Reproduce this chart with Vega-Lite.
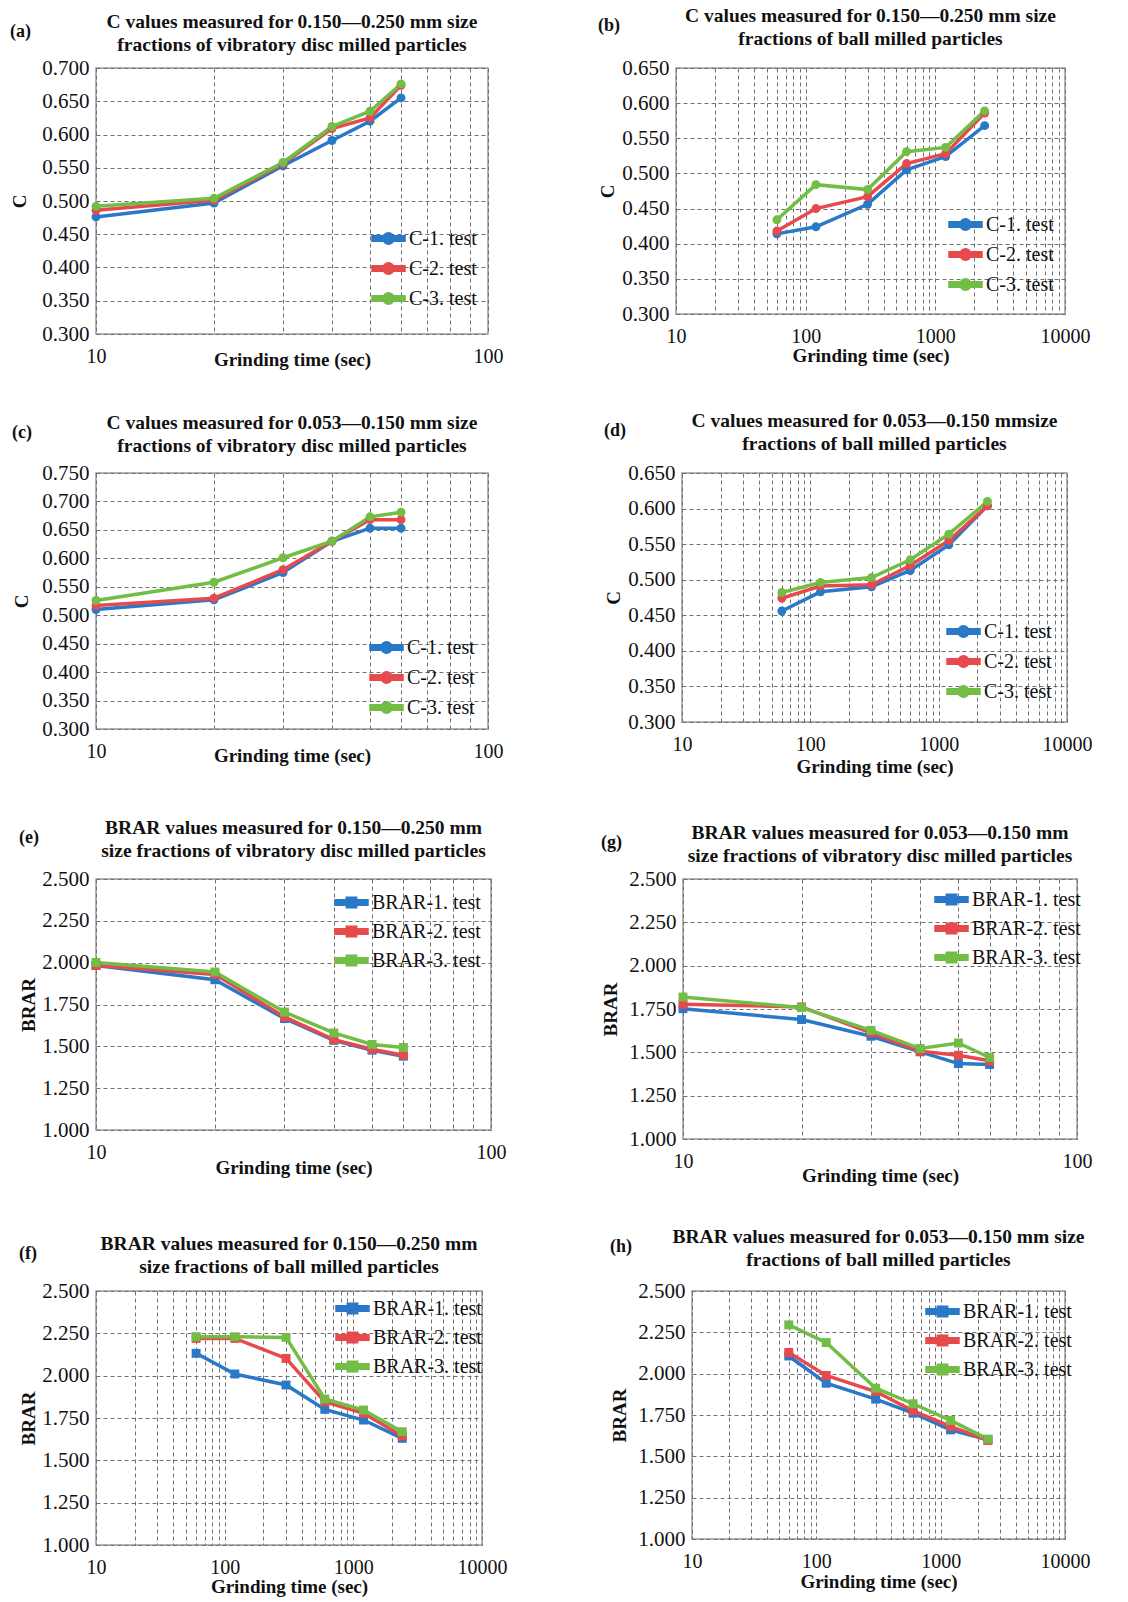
{
  "$schema": "https://vega.github.io/schema/vega-lite/v6.json",
  "padding": {"left": 10, "top": 4, "right": 4, "bottom": 0},
  "background": "white",
  "config": {
    "font": "Liberation Serif",
    "view": {"stroke": "#9a9a9a", "strokeWidth": 1.5},
    "axis": {"labelFont": "Liberation Serif", "labelFontSize": 21, "labelColor": "#111", "titleFont": "Liberation Serif", "titleFontSize": 19, "titleFontWeight": "bold", "titleColor": "#111", "grid": true, "gridDash": [4, 3], "gridColor": "#707070", "gridWidth": 1, "domain": false, "ticks": false, "labelOverlap": false, "labelFlush": false},
    "axisX": {"labelPadding": 12, "labelFontSize": 20},
    "axisY": {"labelPadding": 7, "titlePadding": 8},
    "title": {"font": "Liberation Serif", "fontSize": 19.5, "fontWeight": "bold", "color": "#111", "lineHeight": 23, "offset": 8},
    "legend": {"orient": "none", "labelFont": "Liberation Serif", "labelFontSize": 20, "labelColor": "#111", "symbolSize": 961, "padding": 0, "rowPadding": 0, "labelOffset": 3, "symbolStrokeWidth": 1, "symbolOpacity": 1, "labelLimit": 300},
    "line": {"strokeWidth": 3.5},
    "point": {"filled": true, "size": 80, "opacity": 1}
  },
  "data": {"values": [
    {"p":"a","t":10,"s":"C-1. test","v":0.476},{"p":"a","t":20,"s":"C-1. test","v":0.497},{"p":"a","t":30,"s":"C-1. test","v":0.553},{"p":"a","t":40,"s":"C-1. test","v":0.591},{"p":"a","t":50,"s":"C-1. test","v":0.620},{"p":"a","t":60,"s":"C-1. test","v":0.655},
    {"p":"a","t":10,"s":"C-2. test","v":0.486},{"p":"a","t":20,"s":"C-2. test","v":0.501},{"p":"a","t":30,"s":"C-2. test","v":0.556},{"p":"a","t":40,"s":"C-2. test","v":0.609},{"p":"a","t":50,"s":"C-2. test","v":0.625},{"p":"a","t":60,"s":"C-2. test","v":0.674},
    {"p":"a","t":10,"s":"C-3. test","v":0.492},{"p":"a","t":20,"s":"C-3. test","v":0.504},{"p":"a","t":30,"s":"C-3. test","v":0.558},{"p":"a","t":40,"s":"C-3. test","v":0.612},{"p":"a","t":50,"s":"C-3. test","v":0.635},{"p":"a","t":60,"s":"C-3. test","v":0.676},
    {"p":"b","t":60,"s":"C-1. test","v":0.414},{"p":"b","t":120,"s":"C-1. test","v":0.424},{"p":"b","t":300,"s":"C-1. test","v":0.456},{"p":"b","t":600,"s":"C-1. test","v":0.505},{"p":"b","t":1200,"s":"C-1. test","v":0.524},{"p":"b","t":2400,"s":"C-1. test","v":0.568},
    {"p":"b","t":60,"s":"C-2. test","v":0.418},{"p":"b","t":120,"s":"C-2. test","v":0.450},{"p":"b","t":300,"s":"C-2. test","v":0.467},{"p":"b","t":600,"s":"C-2. test","v":0.514},{"p":"b","t":1200,"s":"C-2. test","v":0.528},{"p":"b","t":2400,"s":"C-2. test","v":0.586},
    {"p":"b","t":60,"s":"C-3. test","v":0.434},{"p":"b","t":120,"s":"C-3. test","v":0.484},{"p":"b","t":300,"s":"C-3. test","v":0.477},{"p":"b","t":600,"s":"C-3. test","v":0.531},{"p":"b","t":1200,"s":"C-3. test","v":0.537},{"p":"b","t":2400,"s":"C-3. test","v":0.589},
    {"p":"c","t":10,"s":"C-1. test","v":0.510},{"p":"c","t":20,"s":"C-1. test","v":0.527},{"p":"c","t":30,"s":"C-1. test","v":0.575},{"p":"c","t":40,"s":"C-1. test","v":0.630},{"p":"c","t":50,"s":"C-1. test","v":0.653},{"p":"c","t":60,"s":"C-1. test","v":0.653},
    {"p":"c","t":10,"s":"C-2. test","v":0.517},{"p":"c","t":20,"s":"C-2. test","v":0.530},{"p":"c","t":30,"s":"C-2. test","v":0.580},{"p":"c","t":40,"s":"C-2. test","v":0.630},{"p":"c","t":50,"s":"C-2. test","v":0.668},{"p":"c","t":60,"s":"C-2. test","v":0.668},
    {"p":"c","t":10,"s":"C-3. test","v":0.526},{"p":"c","t":20,"s":"C-3. test","v":0.558},{"p":"c","t":30,"s":"C-3. test","v":0.601},{"p":"c","t":40,"s":"C-3. test","v":0.630},{"p":"c","t":50,"s":"C-3. test","v":0.673},{"p":"c","t":60,"s":"C-3. test","v":0.681},
    {"p":"d","t":60,"s":"C-1. test","v":0.456},{"p":"d","t":120,"s":"C-1. test","v":0.483},{"p":"d","t":300,"s":"C-1. test","v":0.490},{"p":"d","t":600,"s":"C-1. test","v":0.513},{"p":"d","t":1200,"s":"C-1. test","v":0.549},{"p":"d","t":2400,"s":"C-1. test","v":0.604},
    {"p":"d","t":60,"s":"C-2. test","v":0.474},{"p":"d","t":120,"s":"C-2. test","v":0.491},{"p":"d","t":300,"s":"C-2. test","v":0.493},{"p":"d","t":600,"s":"C-2. test","v":0.520},{"p":"d","t":1200,"s":"C-2. test","v":0.555},{"p":"d","t":2400,"s":"C-2. test","v":0.604},
    {"p":"d","t":60,"s":"C-3. test","v":0.482},{"p":"d","t":120,"s":"C-3. test","v":0.496},{"p":"d","t":300,"s":"C-3. test","v":0.503},{"p":"d","t":600,"s":"C-3. test","v":0.528},{"p":"d","t":1200,"s":"C-3. test","v":0.564},{"p":"d","t":2400,"s":"C-3. test","v":0.610},
    {"p":"e","t":10,"s":"BRAR-1. test","v":1.983},{"p":"e","t":20,"s":"BRAR-1. test","v":1.898},{"p":"e","t":30,"s":"BRAR-1. test","v":1.666},{"p":"e","t":40,"s":"BRAR-1. test","v":1.536},{"p":"e","t":50,"s":"BRAR-1. test","v":1.477},{"p":"e","t":60,"s":"BRAR-1. test","v":1.441},
    {"p":"e","t":10,"s":"BRAR-2. test","v":1.983},{"p":"e","t":20,"s":"BRAR-2. test","v":1.930},{"p":"e","t":30,"s":"BRAR-2. test","v":1.676},{"p":"e","t":40,"s":"BRAR-2. test","v":1.540},{"p":"e","t":50,"s":"BRAR-2. test","v":1.483},{"p":"e","t":60,"s":"BRAR-2. test","v":1.447},
    {"p":"e","t":10,"s":"BRAR-3. test","v":2.001},{"p":"e","t":20,"s":"BRAR-3. test","v":1.944},{"p":"e","t":30,"s":"BRAR-3. test","v":1.705},{"p":"e","t":40,"s":"BRAR-3. test","v":1.580},{"p":"e","t":50,"s":"BRAR-3. test","v":1.511},{"p":"e","t":60,"s":"BRAR-3. test","v":1.493},
    {"p":"g","t":10,"s":"BRAR-1. test","v":1.752},{"p":"g","t":20,"s":"BRAR-1. test","v":1.689},{"p":"g","t":30,"s":"BRAR-1. test","v":1.593},{"p":"g","t":40,"s":"BRAR-1. test","v":1.503},{"p":"g","t":50,"s":"BRAR-1. test","v":1.435},{"p":"g","t":60,"s":"BRAR-1. test","v":1.430},
    {"p":"g","t":10,"s":"BRAR-2. test","v":1.777},{"p":"g","t":20,"s":"BRAR-2. test","v":1.762},{"p":"g","t":30,"s":"BRAR-2. test","v":1.612},{"p":"g","t":40,"s":"BRAR-2. test","v":1.506},{"p":"g","t":50,"s":"BRAR-2. test","v":1.483},{"p":"g","t":60,"s":"BRAR-2. test","v":1.451},
    {"p":"g","t":10,"s":"BRAR-3. test","v":1.819},{"p":"g","t":20,"s":"BRAR-3. test","v":1.758},{"p":"g","t":30,"s":"BRAR-3. test","v":1.627},{"p":"g","t":40,"s":"BRAR-3. test","v":1.522},{"p":"g","t":50,"s":"BRAR-3. test","v":1.554},{"p":"g","t":60,"s":"BRAR-3. test","v":1.470},
    {"p":"f","t":60,"s":"BRAR-1. test","v":2.132},{"p":"f","t":120,"s":"BRAR-1. test","v":2.010},{"p":"f","t":300,"s":"BRAR-1. test","v":1.945},{"p":"f","t":600,"s":"BRAR-1. test","v":1.801},{"p":"f","t":1200,"s":"BRAR-1. test","v":1.738},{"p":"f","t":2400,"s":"BRAR-1. test","v":1.630},
    {"p":"f","t":60,"s":"BRAR-2. test","v":2.220},{"p":"f","t":120,"s":"BRAR-2. test","v":2.220},{"p":"f","t":300,"s":"BRAR-2. test","v":2.102},{"p":"f","t":600,"s":"BRAR-2. test","v":1.846},{"p":"f","t":1200,"s":"BRAR-2. test","v":1.778},{"p":"f","t":2400,"s":"BRAR-2. test","v":1.644},
    {"p":"f","t":60,"s":"BRAR-3. test","v":2.230},{"p":"f","t":120,"s":"BRAR-3. test","v":2.230},{"p":"f","t":300,"s":"BRAR-3. test","v":2.226},{"p":"f","t":600,"s":"BRAR-3. test","v":1.862},{"p":"f","t":1200,"s":"BRAR-3. test","v":1.797},{"p":"f","t":2400,"s":"BRAR-3. test","v":1.669},
    {"p":"h","t":60,"s":"BRAR-1. test","v":2.107},{"p":"h","t":120,"s":"BRAR-1. test","v":1.942},{"p":"h","t":300,"s":"BRAR-1. test","v":1.846},{"p":"h","t":600,"s":"BRAR-1. test","v":1.761},{"p":"h","t":1200,"s":"BRAR-1. test","v":1.660},{"p":"h","t":2400,"s":"BRAR-1. test","v":1.600},
    {"p":"h","t":60,"s":"BRAR-2. test","v":2.128},{"p":"h","t":120,"s":"BRAR-2. test","v":1.989},{"p":"h","t":300,"s":"BRAR-2. test","v":1.892},{"p":"h","t":600,"s":"BRAR-2. test","v":1.775},{"p":"h","t":1200,"s":"BRAR-2. test","v":1.681},{"p":"h","t":2400,"s":"BRAR-2. test","v":1.596},
    {"p":"h","t":60,"s":"BRAR-3. test","v":2.295},{"p":"h","t":120,"s":"BRAR-3. test","v":2.188},{"p":"h","t":300,"s":"BRAR-3. test","v":1.912},{"p":"h","t":600,"s":"BRAR-3. test","v":1.818},{"p":"h","t":1200,"s":"BRAR-3. test","v":1.717},{"p":"h","t":2400,"s":"BRAR-3. test","v":1.604}
  ]},
  "resolve": {"scale": {"color": "independent"}, "legend": {"color": "independent"}},
  "spacing": 39,
  "vconcat": [
    {
      "resolve": {"scale": {"color": "independent"}, "legend": {"color": "independent"}},
      "spacing": 94,
      "hconcat": [
        {
          "title": {"text": "(a)", "anchor": "start", "fontSize": 18, "dy": 30, "offset": 0},
          "vconcat": [{
            "title": {"text": ["C values measured for 0.150—0.250 mm size", "fractions of vibratory disc milled particles"], "offset": 2},
            "width": 392, "height": 266,
            "transform": [{"filter": "datum.p == 'a'"}],
            "encoding": {
              "x": {"field": "t", "type": "quantitative", "scale": {"type": "log", "domain": [10, 100], "nice": false}, "axis": {"values": [10,20,30,40,50,60,70,80,90,100], "labelExpr": "indexof([10,100,1000,10000], datum.value) >= 0 ? '' + datum.value : ''", "title": "Grinding time (sec)", "titlePadding": -16}},
              "y": {"field": "v", "type": "quantitative", "scale": {"domain": [0.3, 0.7], "nice": false, "zero": false}, "axis": {"values": [0.3,0.35,0.4,0.45,0.5,0.55,0.6,0.65,0.7], "format": ".3f", "title": "C", "titlePadding": 12}},
              "color": {"field": "s", "type": "nominal", "scale": {"range": ["#2a78c8", "#e64a4c", "#71bd45"]}, "legend": {"title": null, "legendX": 275, "legendY": 153, "symbolType": "M-1,-0.11L1,-0.11L1,0.11L-1,0.11Z M-0.3,0A0.3,0.3,0,1,1,0.3,0A0.3,0.3,0,1,1,-0.3,0Z"}}
            },
            "layer": [{"mark": {"type": "line"}}, {"mark": {"type": "point", "shape": "circle"}}]
          }]
        },
        {
          "title": {"text": "(b)", "anchor": "start", "fontSize": 18, "dy": 30, "offset": 0},
          "vconcat": [{
            "title": {"text": ["C values measured for 0.150—0.250 mm size", "fractions of ball milled particles"], "offset": 8},
            "width": 389, "height": 246,
            "transform": [{"filter": "datum.p == 'b'"}],
            "encoding": {
              "x": {"field": "t", "type": "quantitative", "scale": {"type": "log", "domain": [10, 10000], "nice": false}, "axis": {"values": [10,20,30,40,50,60,70,80,90,100,200,300,400,500,600,700,800,900,1000,2000,3000,4000,5000,6000,7000,8000,9000,10000], "labelExpr": "indexof([10,100,1000,10000], datum.value) >= 0 ? '' + datum.value : ''", "title": "Grinding time (sec)", "titlePadding": 0}},
              "y": {"field": "v", "type": "quantitative", "scale": {"domain": [0.3, 0.65], "nice": false, "zero": false}, "axis": {"values": [0.3,0.35,0.4,0.45,0.5,0.55,0.6,0.65], "format": ".3f", "title": "C", "titlePadding": 4}},
              "color": {"field": "s", "type": "nominal", "scale": {"range": ["#2a78c8", "#e64a4c", "#71bd45"]}, "legend": {"title": null, "legendX": 272, "legendY": 139, "symbolType": "M-1,-0.11L1,-0.11L1,0.11L-1,0.11Z M-0.3,0A0.3,0.3,0,1,1,0.3,0A0.3,0.3,0,1,1,-0.3,0Z"}}
            },
            "layer": [{"mark": {"type": "line"}}, {"mark": {"type": "point", "shape": "circle"}}]
          }]
        }
      ]
    },
    {
      "resolve": {"scale": {"color": "independent"}, "legend": {"color": "independent"}},
      "spacing": 100,
      "hconcat": [
        {
          "title": {"text": "(c)", "anchor": "start", "fontSize": 18, "dy": 30, "offset": 0},
          "vconcat": [{
            "title": {"text": ["C values measured for 0.053—0.150 mm size", "fractions of vibratory disc milled particles"], "offset": 6},
            "width": 392, "height": 256,
            "transform": [{"filter": "datum.p == 'c'"}],
            "encoding": {
              "x": {"field": "t", "type": "quantitative", "scale": {"type": "log", "domain": [10, 100], "nice": false}, "axis": {"values": [10,20,30,40,50,60,70,80,90,100], "labelExpr": "indexof([10,100,1000,10000], datum.value) >= 0 ? '' + datum.value : ''", "title": "Grinding time (sec)", "titlePadding": -15}},
              "y": {"field": "v", "type": "quantitative", "scale": {"domain": [0.3, 0.75], "nice": false, "zero": false}, "axis": {"values": [0.3,0.35,0.4,0.45,0.5,0.55,0.6,0.65,0.7,0.75], "format": ".3f", "title": "C", "titlePadding": 10}},
              "color": {"field": "s", "type": "nominal", "scale": {"range": ["#2a78c8", "#e64a4c", "#71bd45"]}, "legend": {"title": null, "legendX": 273, "legendY": 157, "symbolType": "M-1,-0.11L1,-0.11L1,0.11L-1,0.11Z M-0.3,0A0.3,0.3,0,1,1,0.3,0A0.3,0.3,0,1,1,-0.3,0Z"}}
            },
            "layer": [{"mark": {"type": "line"}}, {"mark": {"type": "point", "shape": "circle"}}]
          }]
        },
        {
          "title": {"text": "(d)", "anchor": "start", "fontSize": 18, "dy": 30, "offset": 0},
          "vconcat": [{
            "title": {"text": ["C values measured for 0.053—0.150 mmsize", "fractions of ball milled particles"], "offset": 8},
            "width": 385, "height": 249,
            "transform": [{"filter": "datum.p == 'd'"}],
            "encoding": {
              "x": {"field": "t", "type": "quantitative", "scale": {"type": "log", "domain": [10, 10000], "nice": false}, "axis": {"values": [10,20,30,40,50,60,70,80,90,100,200,300,400,500,600,700,800,900,1000,2000,3000,4000,5000,6000,7000,8000,9000,10000], "labelExpr": "indexof([10,100,1000,10000], datum.value) >= 0 ? '' + datum.value : ''", "title": "Grinding time (sec)", "titlePadding": 3}},
              "y": {"field": "v", "type": "quantitative", "scale": {"domain": [0.3, 0.65], "nice": false, "zero": false}, "axis": {"values": [0.3,0.35,0.4,0.45,0.5,0.55,0.6,0.65], "format": ".3f", "title": "C", "titlePadding": 4}},
              "color": {"field": "s", "type": "nominal", "scale": {"range": ["#2a78c8", "#e64a4c", "#71bd45"]}, "legend": {"title": null, "legendX": 264, "legendY": 141, "symbolType": "M-1,-0.11L1,-0.11L1,0.11L-1,0.11Z M-0.3,0A0.3,0.3,0,1,1,0.3,0A0.3,0.3,0,1,1,-0.3,0Z"}}
            },
            "layer": [{"mark": {"type": "line"}}, {"mark": {"type": "point", "shape": "circle"}}]
          }]
        }
      ]
    },
    {
      "resolve": {"scale": {"color": "independent"}, "legend": {"color": "independent"}},
      "spacing": 94,
      "hconcat": [
        {
          "title": {"text": "(e)", "anchor": "start", "fontSize": 18, "dy": 30, "offset": 0},
          "vconcat": [{
            "title": {"text": ["BRAR values measured for 0.150—0.250 mm", "size fractions of vibratory disc milled particles"], "offset": 7},
            "width": 395, "height": 251,
            "transform": [{"filter": "datum.p == 'e'"}],
            "encoding": {
              "x": {"field": "t", "type": "quantitative", "scale": {"type": "log", "domain": [10, 100], "nice": false}, "axis": {"values": [10,20,30,40,50,60,70,80,90,100], "labelExpr": "indexof([10,100,1000,10000], datum.value) >= 0 ? '' + datum.value : ''", "title": "Grinding time (sec)", "titlePadding": -4}},
              "y": {"field": "v", "type": "quantitative", "scale": {"domain": [1, 2.5], "nice": false, "zero": false}, "axis": {"values": [1,1.25,1.5,1.75,2,2.25,2.5], "format": ".3f", "title": "BRAR", "titlePadding": 3}},
              "color": {"field": "s", "type": "nominal", "scale": {"range": ["#2a78c8", "#e64a4c", "#71bd45"]}, "legend": {"title": null, "legendX": 238, "legendY": 6, "symbolType": "M-1,-0.11L1,-0.11L1,0.11L-1,0.11Z M-0.27,-0.27L0.27,-0.27L0.27,0.27L-0.27,0.27Z"}}
            },
            "layer": [{"mark": {"type": "line"}}, {"mark": {"type": "point", "shape": "square"}}]
          }]
        },
        {
          "title": {"text": "(g)", "anchor": "start", "fontSize": 18, "dy": 30, "offset": 0},
          "vconcat": [{
            "title": {"text": ["BRAR values measured for 0.053—0.150 mm", "size fractions of vibratory disc milled particles"], "offset": 2},
            "width": 394, "height": 260,
            "transform": [{"filter": "datum.p == 'g'"}],
            "encoding": {
              "x": {"field": "t", "type": "quantitative", "scale": {"type": "log", "domain": [10, 100], "nice": false}, "axis": {"values": [10,20,30,40,50,60,70,80,90,100], "labelExpr": "indexof([10,100,1000,10000], datum.value) >= 0 ? '' + datum.value : ''", "title": "Grinding time (sec)", "titlePadding": -5}},
              "y": {"field": "v", "type": "quantitative", "scale": {"domain": [1, 2.5], "nice": false, "zero": false}, "axis": {"values": [1,1.25,1.5,1.75,2,2.25,2.5], "format": ".3f", "title": "BRAR", "titlePadding": 8}},
              "color": {"field": "s", "type": "nominal", "scale": {"range": ["#2a78c8", "#e64a4c", "#71bd45"]}, "legend": {"title": null, "legendX": 251, "legendY": 3, "symbolType": "M-1,-0.11L1,-0.11L1,0.11L-1,0.11Z M-0.27,-0.27L0.27,-0.27L0.27,0.27L-0.27,0.27Z"}}
            },
            "layer": [{"mark": {"type": "line"}}, {"mark": {"type": "point", "shape": "square"}}]
          }]
        }
      ]
    },
    {
      "resolve": {"scale": {"color": "independent"}, "legend": {"color": "independent"}},
      "spacing": 102,
      "hconcat": [
        {
          "title": {"text": "(f)", "anchor": "start", "fontSize": 18, "dy": 30, "offset": 0},
          "vconcat": [{
            "title": {"text": ["BRAR values measured for 0.150—0.250 mm", "size fractions of ball milled particles"], "offset": 3},
            "width": 386, "height": 254,
            "transform": [{"filter": "datum.p == 'f'"}],
            "encoding": {
              "x": {"field": "t", "type": "quantitative", "scale": {"type": "log", "domain": [10, 10000], "nice": false}, "axis": {"values": [10,20,30,40,50,60,70,80,90,100,200,300,400,500,600,700,800,900,1000,2000,3000,4000,5000,6000,7000,8000,9000,10000], "labelExpr": "indexof([10,100,1000,10000], datum.value) >= 0 ? '' + datum.value : ''", "title": "Grinding time (sec)", "titlePadding": 0}},
              "y": {"field": "v", "type": "quantitative", "scale": {"domain": [1, 2.5], "nice": false, "zero": false}, "axis": {"values": [1,1.25,1.5,1.75,2,2.25,2.5], "format": ".3f", "title": "BRAR", "titlePadding": 3}},
              "color": {"field": "s", "type": "nominal", "scale": {"range": ["#2a78c8", "#e64a4c", "#71bd45"]}, "legend": {"title": null, "legendX": 239, "legendY": 0, "symbolType": "M-1,-0.11L1,-0.11L1,0.11L-1,0.11Z M-0.27,-0.27L0.27,-0.27L0.27,0.27L-0.27,0.27Z"}}
            },
            "layer": [{"mark": {"type": "line"}}, {"mark": {"type": "point", "shape": "square"}}]
          }]
        },
        {
          "title": {"text": "(h)", "anchor": "start", "fontSize": 18, "dy": 30, "offset": 0},
          "vconcat": [{
            "title": {"text": ["BRAR values measured for 0.053—0.150 mm size", "fractions of ball milled particles"], "offset": 10},
            "width": 373, "height": 248,
            "transform": [{"filter": "datum.p == 'h'"}],
            "encoding": {
              "x": {"field": "t", "type": "quantitative", "scale": {"type": "log", "domain": [10, 10000], "nice": false}, "axis": {"values": [10,20,30,40,50,60,70,80,90,100,200,300,400,500,600,700,800,900,1000,2000,3000,4000,5000,6000,7000,8000,9000,10000], "labelExpr": "indexof([10,100,1000,10000], datum.value) >= 0 ? '' + datum.value : ''", "title": "Grinding time (sec)", "titlePadding": 1}},
              "y": {"field": "v", "type": "quantitative", "scale": {"domain": [1, 2.5], "nice": false, "zero": false}, "axis": {"values": [1,1.25,1.5,1.75,2,2.25,2.5], "format": ".3f", "title": "BRAR", "titlePadding": 8}},
              "color": {"field": "s", "type": "nominal", "scale": {"range": ["#2a78c8", "#e64a4c", "#71bd45"]}, "legend": {"title": null, "legendX": 233, "legendY": 3, "symbolType": "M-1,-0.11L1,-0.11L1,0.11L-1,0.11Z M-0.27,-0.27L0.27,-0.27L0.27,0.27L-0.27,0.27Z"}}
            },
            "layer": [{"mark": {"type": "line"}}, {"mark": {"type": "point", "shape": "square"}}]
          }]
        }
      ]
    }
  ]
}
